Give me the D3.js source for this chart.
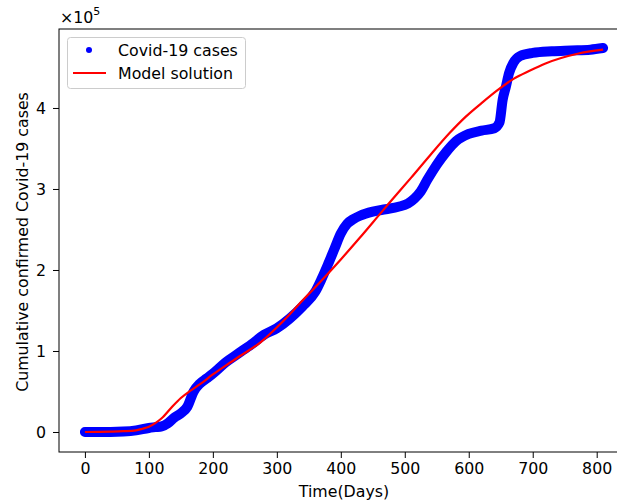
<!DOCTYPE html>
<html>
<head>
<meta charset="utf-8">
<script src="https://cdn.jsdelivr.net/npm/d3@7"></script>
<style>
  body { margin: 0; background: #fff; }
  text { font-family: "DejaVu Sans", sans-serif; }
</style>
</head>
<body>
<svg id="chart" width="617" height="502"></svg>
<script>
// ---- data (values in units of 1e5 cases) ----
const caseDays = [0, 20, 40, 60, 80, 100, 110, 120, 130, 140, 150, 160, 170, 180, 190, 200, 220, 240, 260, 280, 300, 320, 340, 360, 370, 380, 390, 400, 410, 420, 430, 450, 470, 490, 505, 515, 525, 535, 550, 565, 580, 600, 620, 640, 648, 653, 658, 663, 670, 680, 700, 730, 760, 790, 810];
const caseValues = [0, 0, 0, 0.005, 0.02, 0.05, 0.06, 0.07, 0.11, 0.18, 0.23, 0.31, 0.50, 0.60, 0.66, 0.72, 0.86, 0.97, 1.08, 1.20, 1.28, 1.40, 1.55, 1.73, 1.89, 2.07, 2.26, 2.45, 2.57, 2.63, 2.67, 2.72, 2.75, 2.78, 2.82, 2.88, 2.97, 3.11, 3.30, 3.46, 3.59, 3.68, 3.72, 3.75, 3.82, 4.10, 4.26, 4.43, 4.56, 4.64, 4.68, 4.70, 4.71, 4.72, 4.74];

const modelDays = [0, 40, 60, 80, 90, 100, 110, 120, 135, 150, 165, 180, 200, 220, 245, 275, 305, 335, 370, 400, 430, 460, 475, 510, 540, 570, 595, 620, 645, 670, 695, 720, 770, 810];
const modelValues = [0, 0.005, 0.01, 0.02, 0.04, 0.065, 0.11, 0.17, 0.30, 0.42, 0.51, 0.59, 0.71, 0.82, 0.95, 1.11, 1.33, 1.58, 1.87, 2.13, 2.40, 2.68, 2.82, 3.14, 3.42, 3.69, 3.89, 4.06, 4.22, 4.36, 4.46, 4.55, 4.67, 4.72];

const xTicks = [0, 100, 200, 300, 400, 500, 600, 700, 800];
const yTicks = [0, 1, 2, 3, 4];
const seriesNames = ["Covid-19 cases", "Model solution"];
const xLabel = "Time(Days)";
const yLabel = "Cumulative confirmed Covid-19 cases";

// ---- layout ----
const svg = d3.select("#chart");
const mLeft = 59, mRight = 629, mTop = 29, mBottom = 452;
const fs = "15.8px";

const x = d3.scaleLinear().domain([-40.5, 850.5]).range([mLeft, mRight]);
const y = d3.scaleLinear().domain([-0.247, 4.975]).range([mBottom, mTop]);

const caseData = caseDays.map((d, i) => [d, caseValues[i]]);
const modelData = modelDays.map((d, i) => [d, modelValues[i]]);

const line = d3.line().x(d => x(d[0])).y(d => y(d[1])).curve(d3.curveMonotoneX);

// blue series (dense markers -> thick band)
svg.append("path")
  .datum(caseData)
  .attr("d", line)
  .attr("fill", "none")
  .attr("stroke", "#0000ff")
  .attr("stroke-width", 10)
  .attr("stroke-linecap", "round")
  .attr("stroke-linejoin", "round");

// red model line
svg.append("path")
  .datum(modelData)
  .attr("d", line)
  .attr("fill", "none")
  .attr("stroke", "#ff0000")
  .attr("stroke-width", 2.2)
  .attr("stroke-linejoin", "round");

// axes
const xAxis = d3.axisBottom(x).tickValues(xTicks).tickSize(6).tickPadding(5).tickFormat(d3.format("d"));
const yAxis = d3.axisLeft(y).tickValues(yTicks).tickSize(6).tickPadding(7).tickFormat(d3.format("d"));

const gx = svg.append("g").attr("transform", `translate(0,${mBottom})`).call(xAxis);
const gy = svg.append("g").attr("transform", `translate(${mLeft},0)`).call(yAxis);
[gx, gy].forEach(g => {
  g.select(".domain").remove();
  g.selectAll(".tick line").attr("stroke", "#000").attr("stroke-width", 1);
  g.selectAll(".tick text").attr("fill", "#000").style("font-size", fs).style("font-family", "DejaVu Sans, sans-serif");
});

// spines
svg.append("rect")
  .attr("x", mLeft).attr("y", mTop)
  .attr("width", mRight - mLeft).attr("height", mBottom - mTop)
  .attr("fill", "none").attr("stroke", "#000").attr("stroke-width", 1);

// offset text x10^5
const off = svg.append("text").attr("x", 60).attr("y", 23).attr("fill", "#000").style("font-size", fs);
off.append("tspan").text("×10");
off.append("tspan").attr("dy", -8).style("font-size", "11px").text("5");

// axis labels
svg.append("text")
  .attr("x", (mLeft + mRight) / 2).attr("y", 497)
  .attr("text-anchor", "middle").attr("fill", "#000").style("font-size", fs)
  .text(xLabel);

svg.append("text")
  .attr("transform", `translate(28,242) rotate(-90)`)
  .attr("text-anchor", "middle").attr("fill", "#000").style("font-size", fs)
  .text(yLabel);

// legend
const lg = svg.append("g");
lg.append("rect")
  .attr("x", 67.5).attr("y", 37.5).attr("width", 178).attr("height", 51)
  .attr("rx", 3).attr("fill", "#fff").attr("fill-opacity", 0.8)
  .attr("stroke", "#cccccc").attr("stroke-width", 1);
lg.append("circle").attr("cx", 89).attr("cy", 50).attr("r", 3).attr("fill", "#0000ff");
lg.append("line").attr("x1", 73).attr("x2", 106).attr("y1", 73).attr("y2", 73)
  .attr("stroke", "#ff0000").attr("stroke-width", 2.2);
lg.append("text").attr("x", 118).attr("y", 56).attr("fill", "#000").style("font-size", fs).text(seriesNames[0]);
lg.append("text").attr("x", 118).attr("y", 79).attr("fill", "#000").style("font-size", fs).text(seriesNames[1]);
</script>
</body>
</html>
